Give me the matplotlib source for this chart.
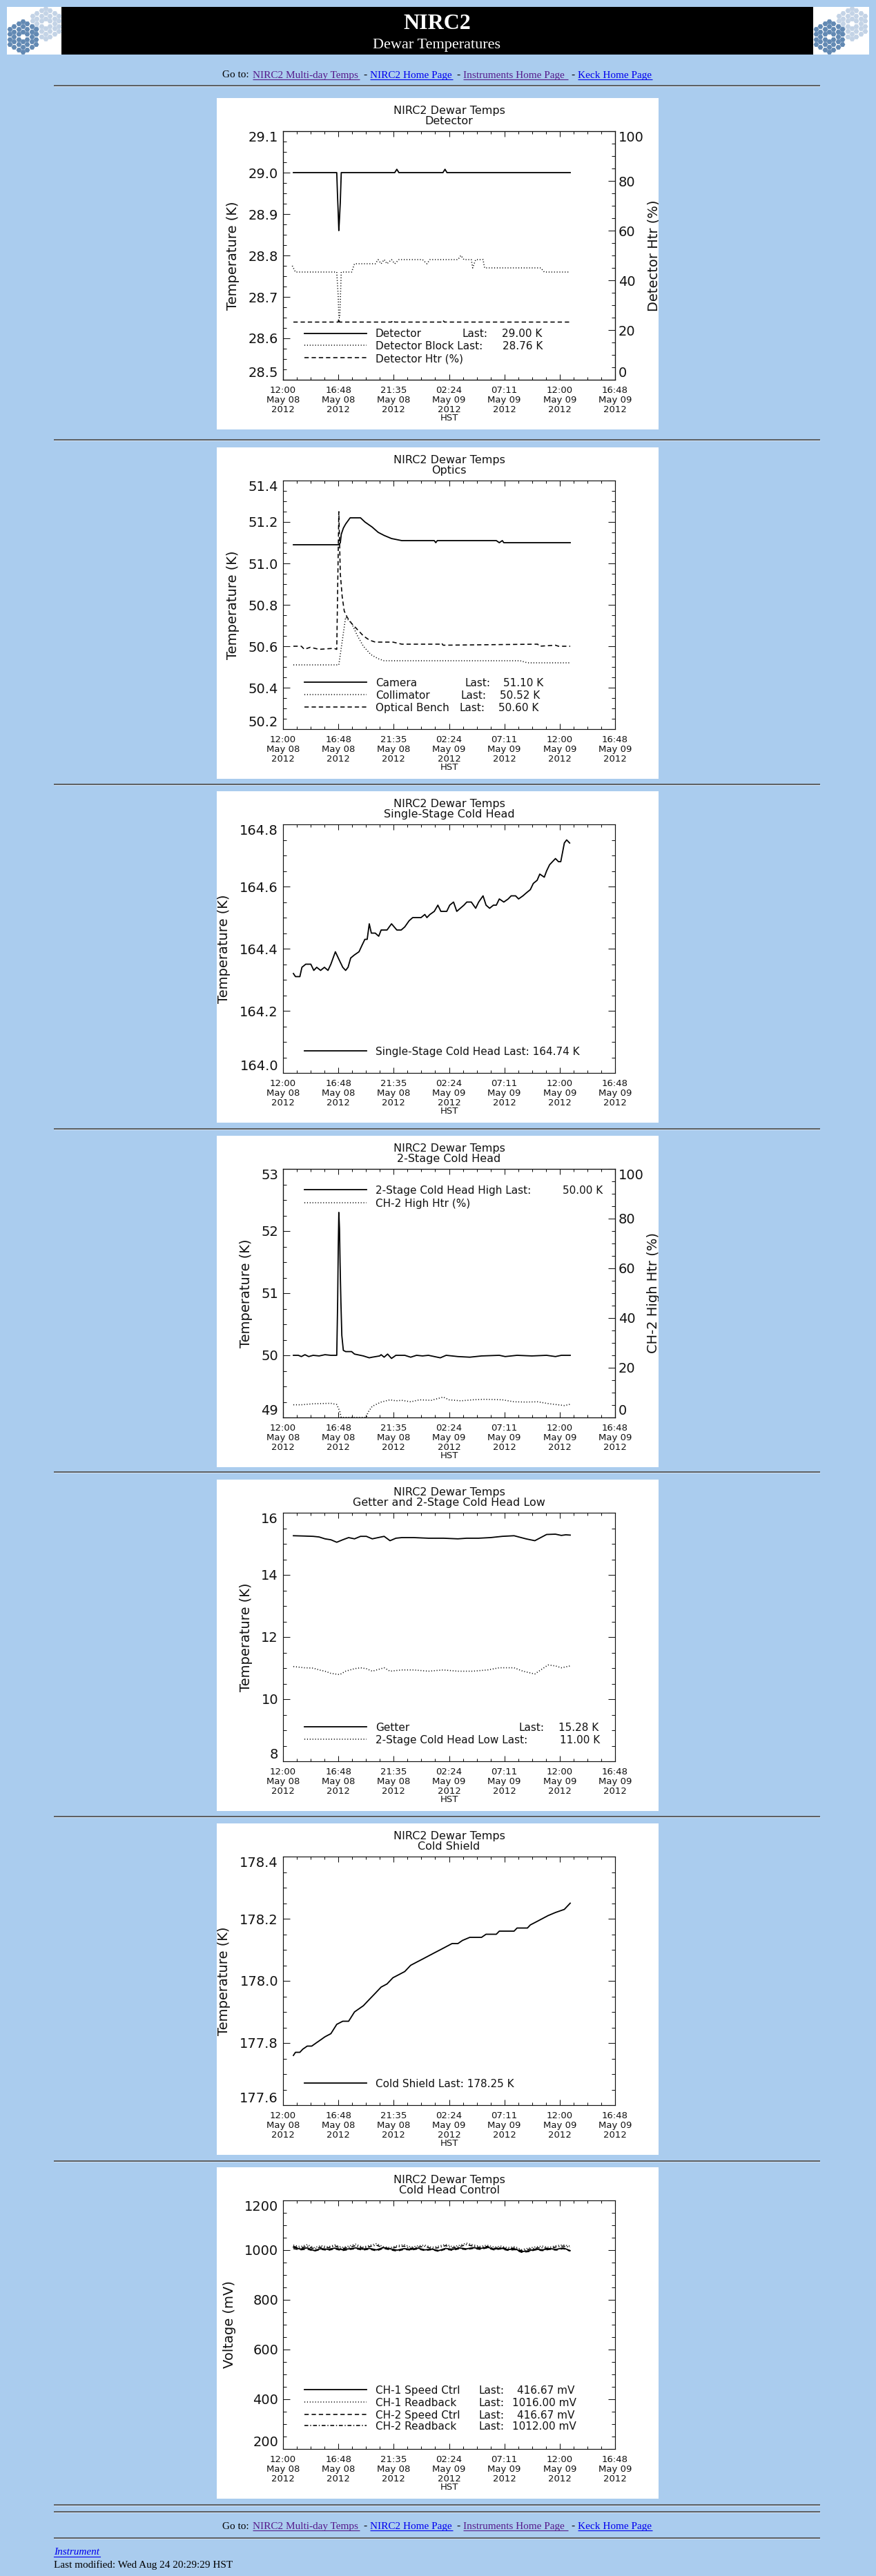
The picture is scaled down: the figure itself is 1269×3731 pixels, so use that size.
import numpy as np
import matplotlib
matplotlib.use('Agg')
import matplotlib.pyplot as plt
from matplotlib.ticker import MultipleLocator, FixedLocator, FormatStrFormatter
from matplotlib.patches import Rectangle

W, H, DPI = 1269, 3731, 100
BG = '#AACCEE'

# ---------------- data (hours since 12:00 May 08 2012 HST) ----------------
x_ticks = [0, 4.8, 9.6, 14.4, 19.2, 24.0, 28.8]
x_ticklabels = ['12:00\nMay 08\n2012', '16:48\nMay 08\n2012', '21:35\nMay 08\n2012',
                '02:24\nMay 09\n2012', '07:11\nMay 09\n2012', '12:00\nMay 09\n2012',
                '16:48\nMay 09\n2012']

# Panel 1: Detector
det_t = [0.90, 4.66, 4.72, 4.79, 4.84, 4.90, 4.97, 5.05, 9.69, 9.87, 10.05, 13.87, 14.05, 14.22, 24.91]
det_v = [29.00, 29.00, 28.95, 28.90, 28.86, 28.89, 28.93, 29.00, 29.00, 29.008, 29.00, 29.00, 29.008, 29.00, 29.00]
block_t = [0.80, 1.08, 4.66, 4.79, 4.84, 4.92, 5.05, 5.95, 6.20, 8.00,
           8.25, 8.51, 8.77, 9.02, 9.41, 9.69, 10.05, 12.10, 12.48, 12.74,
           15.17, 15.43, 15.69, 16.33, 16.45, 16.71, 17.35, 17.48, 22.35, 22.66,
           24.78]
block_v = [28.775, 28.76, 28.76, 28.70, 28.65, 28.65, 28.76, 28.76, 28.78, 28.78,
           28.79, 28.78, 28.79, 28.78, 28.79, 28.78, 28.79, 28.79, 28.78, 28.79,
           28.79, 28.80, 28.79, 28.79, 28.77, 28.79, 28.79, 28.77, 28.77, 28.76,
           28.76]
dhtr_t = [0.90, 4.79, 4.84, 4.90, 9.41, 9.53, 9.69, 13.76, 13.87, 14.00, 24.91]
dhtr_v = [23.2, 23.2, 24.6, 23.2, 23.2, 23.9, 23.2, 23.2, 23.9, 23.2, 23.2]

# Panel 2: Optics
cam_t = [0.90, 4.66, 4.84, 4.97, 5.05, 5.23, 5.43, 5.82, 6.72, 7.10,
         7.74, 8.25, 8.77, 9.41, 10.30, 13.12, 13.25, 13.38, 18.50, 18.76,
         19.02, 19.15, 19.40, 24.91]
cam_v = [51.09, 51.09, 51.09, 51.10, 51.14, 51.17, 51.19, 51.22, 51.22, 51.20,
         51.175, 51.15, 51.135, 51.12, 51.11, 51.11, 51.10, 51.11, 51.11, 51.10,
         51.11, 51.10, 51.10, 51.10]
col_t = [0.90, 4.84, 5.43, 5.95, 6.46, 6.97, 7.61, 8.25, 8.77, 20.56, 21.20, 24.91]
col_v = [50.51, 50.51, 50.74, 50.71, 50.65, 50.60, 50.56, 50.54, 50.53, 50.53, 50.52, 50.52]
ben_t = [0.90, 1.59, 1.85, 2.36, 3.13, 4.41, 4.66, 4.84, 4.97, 5.13,
         5.31, 5.56, 5.95, 6.46, 6.97, 7.48, 8.00, 9.53, 10.30, 13.64,
         13.76, 13.89, 22.09, 22.22, 23.63, 23.89, 24.91]
ben_v = [50.60, 50.60, 50.585, 50.595, 50.585, 50.59, 50.585, 51.25, 50.95, 50.84,
         50.77, 50.74, 50.71, 50.68, 50.65, 50.63, 50.62, 50.62, 50.61, 50.61,
         50.615, 50.605, 50.61, 50.60, 50.605, 50.60, 50.60]

# Panel 3: Single-Stage Cold Head
ss_t = [0.90, 1.08, 1.46, 1.64, 1.97, 2.41, 2.67, 2.92, 3.26, 3.59,
        3.90, 4.15, 4.54, 4.92, 5.18, 5.43, 5.64, 5.87, 6.20, 6.59,
        6.84, 7.10, 7.30, 7.48, 7.66, 8.00, 8.30, 8.51, 9.02, 9.41,
        9.87, 10.25, 10.56, 10.94, 11.25, 11.97, 12.30, 12.48, 12.74, 13.12,
        13.43, 13.69, 13.89, 14.20, 14.46, 14.79, 15.07, 15.38, 15.69, 15.94,
        16.33, 16.71, 16.97, 17.35, 17.61, 17.92, 18.25, 18.50, 18.76, 19.15,
        19.53, 19.79, 20.17, 20.43, 20.81, 21.12, 21.45, 21.71, 22.04, 22.27,
        22.66, 22.86, 23.12, 23.63, 23.89, 24.09, 24.40, 24.60, 24.86]
ss_v = [164.32, 164.31, 164.31, 164.34, 164.35, 164.35, 164.33, 164.34, 164.33, 164.34,
        164.33, 164.35, 164.39, 164.36, 164.34, 164.33, 164.34, 164.37, 164.38, 164.39,
        164.41, 164.43, 164.43, 164.48, 164.45, 164.45, 164.44, 164.46, 164.46, 164.48,
        164.46, 164.46, 164.47, 164.49, 164.50, 164.50, 164.51, 164.50, 164.51, 164.52,
        164.54, 164.52, 164.52, 164.52, 164.54, 164.55, 164.52, 164.53, 164.54, 164.55,
        164.55, 164.53, 164.55, 164.57, 164.54, 164.53, 164.54, 164.54, 164.56, 164.55,
        164.56, 164.57, 164.57, 164.56, 164.57, 164.58, 164.59, 164.61, 164.62, 164.64,
        164.63, 164.65, 164.67, 164.69, 164.68, 164.68, 164.74, 164.75, 164.74]

# Panel 4: 2-Stage Cold Head
ch_t = [0.90, 1.33, 1.59, 1.90, 2.23, 2.61, 3.13, 3.64, 4.15, 4.66,
        4.74, 4.79, 4.84, 4.90, 4.95, 5.02, 5.10, 5.23, 5.43, 5.95,
        6.20, 6.97, 7.48, 7.74, 8.38, 8.51, 8.77, 9.07, 9.41, 9.79,
        10.56, 11.07, 11.58, 12.10, 12.61, 13.64, 14.15, 15.17, 16.20, 17.22,
        18.76, 19.27, 20.30, 21.58, 22.86, 23.63, 24.14, 24.91]
ch_v = [50.00, 50.00, 49.98, 50.01, 49.98, 50.00, 49.99, 50.01, 50.00, 50.00,
        50.88, 51.73, 52.30, 52.03, 51.47, 50.86, 50.32, 50.08, 50.06, 50.06,
        50.02, 49.99, 49.96, 49.97, 49.99, 50.01, 49.97, 50.02, 49.95, 50.00,
        50.00, 49.97, 50.00, 49.99, 50.00, 49.96, 50.00, 49.98, 49.97, 49.99,
        50.00, 49.98, 50.00, 49.99, 50.00, 49.98, 50.00, 50.00]
h2_t = [0.90, 1.59, 2.61, 4.15, 4.66, 4.92, 5.05, 7.23, 7.36, 7.74,
        8.51, 9.28, 9.79, 10.30, 11.07, 11.84, 12.87, 13.89, 14.40, 15.43,
        16.45, 17.48, 19.02, 20.04, 21.07, 22.09, 23.12, 24.40, 24.91]
h2_v = [5.1, 5.1, 5.5, 5.7, 5.2, 2.5, 0.0, 0.0, 2.0, 4.5,
        6.2, 7.1, 6.7, 6.9, 6.3, 7.1, 6.9, 8.2, 7.1, 6.7,
        7.1, 7.3, 7.1, 6.3, 6.2, 6.3, 5.5, 4.8, 5.3]

# Panel 5: Getter and 2-Stage Cold Head Low
get_t = [0.90, 1.85, 2.61, 3.13, 3.64, 4.15, 4.66, 5.18, 5.69, 6.20,
         6.72, 7.23, 7.74, 8.25, 8.77, 9.28, 9.79, 10.30, 11.33, 12.61,
         13.89, 15.17, 15.94, 16.97, 17.99, 19.02, 20.04, 21.07, 21.84, 22.35,
         22.86, 23.63, 24.14, 24.53, 24.91]
get_v = [15.26, 15.25, 15.24, 15.22, 15.16, 15.13, 15.05, 15.13, 15.20, 15.16,
         15.24, 15.24, 15.16, 15.20, 15.24, 15.10, 15.18, 15.20, 15.20, 15.18,
         15.18, 15.16, 15.18, 15.18, 15.20, 15.24, 15.26, 15.16, 15.10, 15.20,
         15.30, 15.31, 15.27, 15.29, 15.28]
low_t = [0.90, 1.85, 2.61, 3.13, 3.64, 4.15, 4.92, 5.43, 6.20, 6.72,
         7.23, 7.74, 8.77, 9.28, 10.30, 11.33, 12.61, 13.89, 15.17, 16.45,
         17.74, 18.76, 20.04, 20.81, 21.84, 22.35, 22.99, 23.63, 24.14, 24.91]
low_v = [11.05, 11.01, 11.00, 10.94, 10.90, 10.83, 10.79, 10.90, 10.98, 11.01,
         10.98, 10.90, 11.01, 10.90, 10.94, 10.94, 10.90, 10.94, 10.90, 10.90,
         10.94, 11.01, 11.01, 10.90, 10.81, 10.94, 11.10, 11.07, 11.01, 11.07]

# Panel 6: Cold Shield
cs_t = [0.90, 1.08, 1.46, 1.71, 2.10, 2.49, 2.87, 3.26, 3.64, 4.15,
        4.66, 5.18, 5.69, 6.20, 6.97, 7.48, 8.00, 8.51, 9.02, 9.53,
        10.05, 10.56, 11.07, 11.58, 12.10, 12.61, 13.12, 13.64, 14.15, 14.66,
        15.17, 15.56, 16.20, 17.22, 17.61, 18.50, 18.76, 20.04, 20.30, 21.20,
        21.45, 21.97, 22.48, 22.99, 23.63, 24.40, 24.91]
cs_v = [177.76, 177.77, 177.77, 177.78, 177.79, 177.79, 177.80, 177.81, 177.82, 177.83,
        177.86, 177.87, 177.87, 177.90, 177.92, 177.94, 177.96, 177.98, 177.99, 178.01,
        178.02, 178.03, 178.05, 178.06, 178.07, 178.08, 178.09, 178.10, 178.11, 178.12,
        178.12, 178.13, 178.14, 178.14, 178.15, 178.15, 178.16, 178.16, 178.17, 178.17,
        178.18, 178.19, 178.20, 178.21, 178.22, 178.23, 178.25]

# Panel 7: Cold Head Control
ctl_t = [0.9, 1.5, 2.1, 2.7, 3.3, 3.9, 4.5, 5.1, 5.7, 6.3,
         6.9, 7.5, 8.1, 8.7, 9.3, 9.9, 10.5, 11.1, 11.7, 12.3,
         12.9, 13.5, 14.1, 14.7, 15.3, 15.9, 16.5, 17.1, 17.7, 18.3,
         18.9, 19.5, 20.1, 20.7, 21.3, 21.9, 22.5, 23.1, 23.7, 24.3, 24.9]
ch1_speed = [1012, 1004, 1009, 998, 1006, 1003, 1008, 1002, 1005, 1009,
             1004, 1007, 1001, 1010, 1005, 1000, 1006, 1003, 1008, 1001,
             1004, 998, 1007, 1003, 1009, 1005, 1010, 1006, 1012, 1004,
             1008, 1002, 1005, 994, 997, 1004, 1001, 1006, 1003, 1009, 998]
ch1_rb = [1020, 1014, 1022, 1010, 1018, 1013, 1021, 1011, 1016, 1024,
          1012, 1019, 1026, 1014, 1010, 1018, 1022, 1012, 1017, 1020,
          1011, 1016, 1023, 1014, 1019, 1028, 1021, 1015, 1020, 1012,
          1016, 1010, 1014, 1002, 1008, 1013, 1016, 1011, 1018, 1021, 1016]
ch2_speed = [1006, 1001, 1004, 996, 1003, 999, 1005, 998, 1002, 1006,
             1000, 1004, 997, 1007, 1001, 996, 1003, 1000, 1005, 998,
             1002, 995, 1004, 999, 1006, 1002, 1007, 1003, 1009, 1001,
             1005, 999, 1002, 991, 994, 1001, 998, 1003, 1000, 1006, 996]
ch2_rb = [1015, 1008, 1016, 1005, 1012, 1009, 1017, 1006, 1011, 1018,
          1008, 1014, 1020, 1009, 1006, 1013, 1016, 1007, 1012, 1015,
          1006, 1010, 1018, 1009, 1014, 1022, 1016, 1010, 1015, 1007,
          1011, 1005, 1009, 997, 1003, 1008, 1010, 1006, 1013, 1016, 1012]

# ---------------- styling ----------------
plt.rcParams['font.family'] = ['DejaVu Sans']
plt.rcParams['lines.scale_dashes'] = False
INK = '#111111'
SOLID = '-'
DOT = (0, (0.8, 2.0))
DASH = (0, (4.5, 3.0))
DASHDOT = (0, (4.0, 2.0, 1.0, 2.0))

fig = plt.figure(figsize=(W / DPI, H / DPI), dpi=DPI)
fig.patch.set_facecolor(BG)


def frect(x, y, w, h):
    return [x / W, 1 - (y + h) / H, w / W, h / H]


ov = fig.add_axes([0, 0, 1, 1], zorder=0)
ov.set_xlim(0, W)
ov.set_ylim(H, 0)
ov.axis('off')

SERIF = 'Liberation Serif'
VISITED = '#551A8B'
LINK = '#0000EE'


def hr(y):
    ov.plot([78, 1188], [y, y], color='#555555', lw=1.3, solid_capstyle='butt')
    ov.plot([78, 1188], [y + 1.4, y + 1.4], color='#d8e6f5', lw=0.6, solid_capstyle='butt')


def goto_line(yb):
    ov.text(322, yb, 'Go to:', fontsize=11, family=SERIF, va='baseline', ha='left', color='black')
    links = [('NIRC2 Multi-day Temps', 366, 521, VISITED), ('NIRC2 Home Page', 536, 656, LINK),
             ('Instruments Home Page', 671, 823, VISITED), ('Keck Home Page', 837, 945, LINK)]
    for i, (s, x0, x1, c) in enumerate(links):
        ov.text(x0, yb, s, fontsize=11, family=SERIF, va='baseline', ha='left', color=c)
        ov.plot([x0, x1], [yb + 2.2, yb + 2.2], color=c, lw=0.8, solid_capstyle='butt')
        if i < 3:
            ov.text((x1 + links[i + 1][1]) / 2, yb, '-', fontsize=11, family=SERIF,
                    va='baseline', ha='center', color='black')


# header banner
ov.add_patch(Rectangle((89, 10), 1089, 69, facecolor='black', edgecolor='none'))
ov.text(633, 41.5, 'NIRC2', color='white', fontsize=23, family=SERIF, weight='bold',
        ha='center', va='baseline')
ov.text(633, 70, 'Dewar Temperatures', color='white', fontsize=16, family=SERIF,
        ha='center', va='baseline')


def draw_logo(x0, w):
    # decorative Keck-mirror logo: two segmented hexagonal mirrors
    lax = fig.add_axes(frect(x0, 10, w, 69), zorder=1)
    lax.set_xlim(0, w)
    lax.set_ylim(69, 0)
    lax.axis('off')
    lax.add_patch(Rectangle((0, 0), w, 69, facecolor='white', edgecolor='none'))
    s = 4.33
    for (cx, cy, col) in [(56, 24, '#C3D3E6'), (23, 43, '#6289B3')]:
        for q in range(-3, 4):
            for r in range(-3, 4):
                d = max(abs(q), abs(r), abs(q + r))
                if d == 0 or d > 3:
                    continue
                x = cx + 1.5 * s * q
                y = cy + np.sqrt(3) * s * (r + q / 2)
                lax.plot([x], [y], marker='H', ms=5.6, color=col, mec='none', clip_on=True)


draw_logo(10, 79)
draw_logo(1178, 81)

goto_line(112.5)
for y in [124, 637, 1136, 1635, 2132, 2631, 3130, 3628, 3638, 3676]:
    hr(y)
goto_line(3663)
ov.text(78, 3700.5, 'Instrument', fontsize=11, family=SERIF, style='italic', color=LINK,
        va='baseline', ha='left')
ov.plot([78, 145], [3702.8, 3702.8], color=LINK, lw=0.8)
ov.text(78, 3719, 'Last modified: Wed Aug 24 20:29:29 HST', fontsize=11, family=SERIF,
        color='black', va='baseline', ha='left')

PANEL_TOPS = [142, 648, 1146, 1645, 2143, 2641, 3139]


def make_panel(top, subtitle, ylim, yticks, yminor, yfmt, ylabel, ylabel_x, right=None):
    pax = fig.add_axes(frect(314, top, 640, 480), zorder=1)
    pax.set_facecolor('white')
    pax.set_xlim(0, 1)
    pax.set_ylim(0, 1)
    pax.set_xticks([])
    pax.set_yticks([])
    for s in pax.spines.values():
        s.set_visible(False)

    ax = fig.add_axes(frect(410, top + 48, 481, 360), zorder=2)
    ax.set_facecolor('none')
    ax.set_xlim(0, 28.8)
    ax.set_ylim(*ylim)
    ax.xaxis.set_major_locator(FixedLocator(x_ticks))
    ax.set_xticklabels(x_ticklabels)
    ax.xaxis.set_minor_locator(MultipleLocator(1.2))
    ax.yaxis.set_major_locator(FixedLocator(yticks))
    ax.yaxis.set_major_formatter(FormatStrFormatter(yfmt))
    ax.yaxis.set_minor_locator(MultipleLocator(yminor))
    for s in ax.spines.values():
        s.set_linewidth(0.85)
        s.set_color(INK)
    ax.tick_params(axis='both', which='both', direction='in', top=True,
                   right=(right is None), width=0.75, colors=INK)
    ax.tick_params(axis='x', which='major', length=6, pad=6.5, labelsize=9.5)
    ax.tick_params(axis='x', which='minor', length=3)
    ax.tick_params(axis='y', which='major', length=7.2, pad=5, labelsize=14)
    ax.tick_params(axis='y', which='minor', length=3.6)
    for tk in ax.xaxis.get_major_ticks():
        tk.label1.set_linespacing(1.1)
    yt = ax.yaxis.get_major_ticks()
    yt[0].label1.set_va('bottom')
    yt[-1].label1.set_va('top')
    ax.set_ylabel(ylabel, fontsize=14, color=INK, va='center')
    ax.yaxis.set_label_coords(ylabel_x, 0.5)
    ax.set_xlabel('HST', fontsize=9.5, color=INK)
    ax.xaxis.set_label_coords(0.5, -0.137)
    ax.text(0.5, 1.069, 'NIRC2 Dewar Temps', transform=ax.transAxes, ha='center',
            va='baseline', fontsize=11.5, color=INK)
    ax.text(0.5, 1.028, subtitle, transform=ax.transAxes, ha='center',
            va='baseline', fontsize=11.5, color=INK)
    ax2 = None
    if right is not None:
        ax2 = ax.twinx()
        ax2.set_zorder(3)
        ax2.set_ylim(0, 100)
        ax2.yaxis.set_major_locator(FixedLocator([0, 20, 40, 60, 80, 100]))
        ax2.yaxis.set_major_formatter(FormatStrFormatter('%d'))
        ax2.yaxis.set_minor_locator(MultipleLocator(5))
        for s in ax2.spines.values():
            s.set_linewidth(0.85)
            s.set_color(INK)
        ax2.tick_params(axis='y', which='both', direction='in', colors=INK, width=0.75)
        ax2.tick_params(axis='y', which='major', length=7.2, pad=3.6, labelsize=14)
        ax2.tick_params(axis='y', which='minor', length=3.6)
        rt = ax2.yaxis.get_major_ticks()
        rt[0].label2.set_va('bottom')
        rt[-1].label2.set_va('top')
        pax.text(0.9885, 0.525, right, rotation=90, ha='center', va='center',
                 fontsize=14, color=INK, transform=pax.transAxes, clip_on=True)
    return ax, ax2


def series(ax, t, v, ls):
    lw = 1.3 if ls == SOLID else 1.15
    ax.plot(t, v, color='black', lw=lw, linestyle=ls)


def legend_rows(ax, rows):
    for ls, yf, pieces in rows:
        lw = 1.3 if ls == SOLID else 1.15
        ax.plot([0.0645, 0.251], [yf, yf], transform=ax.transAxes, color='black',
                lw=lw, linestyle=ls, clip_on=False)
        for txt, xf in pieces:
            ax.text(xf, yf, txt, transform=ax.transAxes, va='center_baseline', ha='left',
                    fontsize=11, color=INK)


TX = 0.278

# Panel 1
ax, ax2 = make_panel(PANEL_TOPS[0], 'Detector', (28.5, 29.1),
                     [28.5, 28.6, 28.7, 28.8, 28.9, 29.0, 29.1], 0.025, '%.1f',
                     'Temperature (K)', -0.151, right='Detector Htr (%)')
series(ax, det_t, det_v, SOLID)
series(ax, block_t, block_v, DOT)
series(ax2, dhtr_t, dhtr_v, DASH)
legend_rows(ax, [(SOLID, 0.1875, [('Detector', TX), ('Last:', 0.540), ('29.00 K', 0.660)]),
                 (DOT, 0.138, [('Detector Block Last:', TX), ('28.76 K', 0.662)]),
                 (DASH, 0.088, [('Detector Htr (%)', TX)])])

# Panel 2
ax, _ = make_panel(PANEL_TOPS[1], 'Optics', (50.2, 51.4),
                   [50.2, 50.4, 50.6, 50.8, 51.0, 51.2, 51.4], 0.05, '%.1f',
                   'Temperature (K)', -0.151)
series(ax, cam_t, cam_v, SOLID)
series(ax, col_t, col_v, DOT)
series(ax, ben_t, ben_v, DASH)
legend_rows(ax, [(SOLID, 0.188, [('Camera', TX), ('Last:', 0.547), ('51.10 K', 0.664)]),
                 (DOT, 0.139, [('Collimator', TX), ('Last:', 0.535), ('50.52 K', 0.653)]),
                 (DASH, 0.088, [('Optical Bench', TX), ('Last:', 0.531), ('50.60 K', 0.649)])])

# Panel 3
ax, _ = make_panel(PANEL_TOPS[2], 'Single-Stage Cold Head', (164.0, 164.8),
                   [164.0, 164.2, 164.4, 164.6, 164.8], 0.05, '%.1f',
                   'Temperature (K)', -0.178)
series(ax, ss_t, ss_v, SOLID)
legend_rows(ax, [(SOLID, 0.089, [('Single-Stage Cold Head Last: 164.74 K', TX)])])

# Panel 4
ax, ax2 = make_panel(PANEL_TOPS[3], '2-Stage Cold Head', (49, 53),
                     [49, 50, 51, 52, 53], 0.25, '%d',
                     'Temperature (K)', -0.112, right='CH-2 High Htr (%)')
series(ax, ch_t, ch_v, SOLID)
series(ax2, h2_t, h2_v, DOT)
legend_rows(ax, [(SOLID, 0.916, [('2-Stage Cold Head High Last:', TX), ('50.00 K', 0.842)]),
                 (DOT, 0.864, [('CH-2 High Htr (%)', TX)])])

# Panel 5
ax, _ = make_panel(PANEL_TOPS[4], 'Getter and 2-Stage Cold Head Low', (8, 16),
                   [8, 10, 12, 14, 16], 0.5, '%d',
                   'Temperature (K)', -0.112)
series(ax, get_t, get_v, SOLID)
series(ax, low_t, low_v, DOT)
legend_rows(ax, [(SOLID, 0.140, [('Getter', TX), ('Last:', 0.711), ('15.28 K', 0.829)]),
                 (DOT, 0.089, [('2-Stage Cold Head Low Last:', TX), ('11.00 K', 0.833)])])

# Panel 6
ax, _ = make_panel(PANEL_TOPS[5], 'Cold Shield', (177.6, 178.4),
                   [177.6, 177.8, 178.0, 178.2, 178.4], 0.05, '%.1f',
                   'Temperature (K)', -0.178)
series(ax, cs_t, cs_v, SOLID)
legend_rows(ax, [(SOLID, 0.090, [('Cold Shield Last: 178.25 K', TX)])])

# Panel 7
ax, _ = make_panel(PANEL_TOPS[6], 'Cold Head Control', (200, 1200),
                   [200, 400, 600, 800, 1000, 1200], 50, '%d',
                   'Voltage (mV)', -0.162)
series(ax, ctl_t, ch1_speed, SOLID)
series(ax, ctl_t, ch1_rb, DOT)
series(ax, ctl_t, ch2_speed, DASH)
series(ax, ctl_t, ch2_rb, DASHDOT)
legend_rows(ax, [(SOLID, 0.239, [('CH-1 Speed Ctrl', TX), ('Last:', 0.589), ('416.67 mV', 0.704)]),
                 (DOT, 0.189, [('CH-1 Readback', TX), ('Last:', 0.589), ('1016.00 mV', 0.691)]),
                 (DASH, 0.139, [('CH-2 Speed Ctrl', TX), ('Last:', 0.589), ('416.67 mV', 0.704)]),
                 (DASHDOT, 0.0936, [('CH-2 Readback', TX), ('Last:', 0.589), ('1012.00 mV', 0.691)])])

fig.savefig('out.png', dpi=DPI, facecolor=BG)
